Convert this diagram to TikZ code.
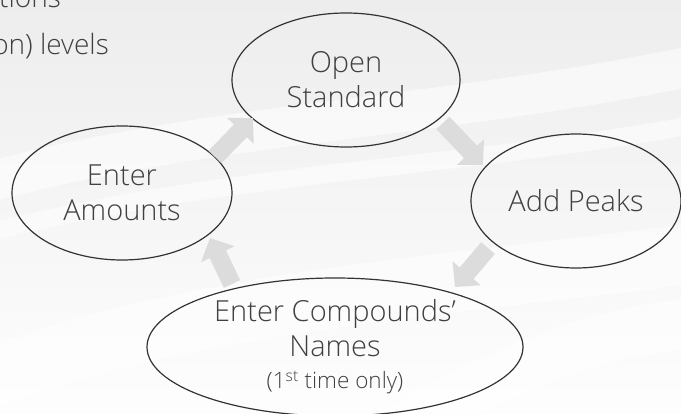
\documentclass[tikz,border=0pt]{standalone}
\usepackage{fontspec}
\setmainfont{Open Sans Light}
\usetikzlibrary{shapes.geometric,arrows.meta}
\definecolor{ink}{HTML}{404040}
\definecolor{rim}{HTML}{333333}
\definecolor{flowgray}{HTML}{DCDCDC}
\definecolor{paper}{HTML}{EDEDEE}
\tikzset{
  stage/.style={ellipse, draw=rim, line width=1.2pt, text=ink, align=center,
    inner sep=0pt, font=\fontsize{29}{35}\selectfont},
  flow/.style={draw=flowgray, line width=18pt,
    -{Triangle[length=18pt,width=36pt]}},
  swoosh/.style={white, line cap=round, opacity=0.55},
  bullet/.style={anchor=base east, text=ink, inner sep=0pt,
    font=\fontsize{28}{32}\selectfont}
}
\begin{document}
\begin{tikzpicture}[x=1pt,y=-1pt]
  % page frame and soft backdrop
  \useasboundingbox (0,0) rectangle (681,414);
  \begin{scope}
    \clip (0,0) rectangle (681,414);
    \shade[top color=paper, bottom color=white!92!paper] (0,0) rectangle (681,414);
    \draw[swoosh, line width=40pt] (-40,190) .. controls (200,120) and (450,120) .. (720,60);
    \draw[swoosh, line width=18pt] (-40,240) .. controls (220,170) and (460,170) .. (720,120);
    \draw[swoosh, line width=60pt] (-40,390) .. controls (180,300) and (420,290) .. (720,250);
    \draw[swoosh, line width=50pt] (400,430) .. controls (520,360) and (600,330) .. (720,320);
    % bullet text running in from the left
    \node[bullet] (bulletA) at (61,8) {functions};
    \node[bullet] (bulletB) at (109,55) {(calibration) levels};
  \end{scope}

  % process stages
  \node[stage, minimum width=228pt, minimum height=134pt] (open) at (346,80) {Open\\Standard};
  \node[stage, minimum width=210pt, minimum height=134pt] (peaks) at (576,201) {Add Peaks};
  \node[stage, minimum width=220pt, minimum height=134pt] (amounts) at (122,193) {Enter\\Amounts};
  \node[stage, minimum width=376pt, minimum height=138pt] (names) at (335,347)
    {Enter Compounds'\\Names\\[-3pt]{\fontsize{22.5}{26}\selectfont(1\textsuperscript{st} time only)}};

  % arrow ends
  \coordinate (a1) at (215,157); \coordinate (b1) at (253,118);
  \coordinate (a2) at (443,123); \coordinate (b2) at (483,165);
  \coordinate (a3) at (488,248); \coordinate (b3) at (455,287);
  \coordinate (a4) at (232,284); \coordinate (b4) at (210,238);

  \draw[flow] (a1) -- (b1);
  \draw[flow] (a2) -- (b2);
  \draw[flow] (a3) -- (b3);
  \draw[flow] (a4) -- (b4);
\end{tikzpicture}
\end{document}
